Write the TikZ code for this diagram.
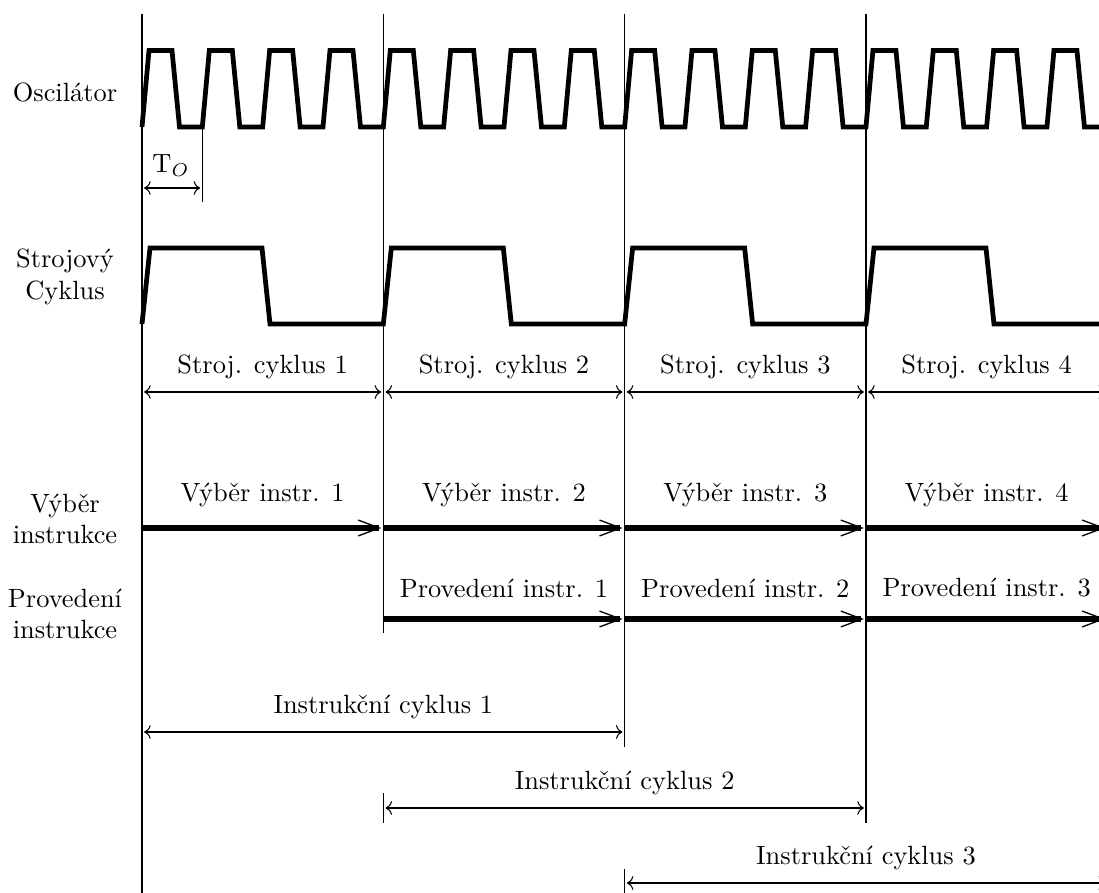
\documentclass[tikz,border=0pt]{standalone}
\usepackage{fontspec}
\usetikzlibrary{arrows.meta}

\tikzset{
  vline/.style={line width=0.4pt},
  wave/.style={line width=1.8pt, line join=miter},
  span/.style={<->, line width=0.4pt, shorten <=0.8pt, shorten >=0.8pt},
  phase/.style={line width=2.5pt,
    -{Straight Barb[length=8pt,width=6pt,line width=0.5pt]},
    shorten >=0.8pt},
  lbl/.style={inner sep=0pt},
  side/.style={align=center, inner sep=0pt},
}

\begin{document}
\begin{tikzpicture}[x=0.3788pt, y=-0.3788pt]
  \useasboundingbox (0,0) rectangle (1099,893);
  \clip (0,0) rectangle (1099,893);

  % cycle boundaries
  \coordinate (t0) at (142,14);    \coordinate (b0) at (142,893);
  \coordinate (t1) at (383.33,14); \coordinate (b1) at (383.33,633);
  \coordinate (t2) at (624.67,14); \coordinate (b2) at (624.67,747);
  \coordinate (t3) at (866,14);    \coordinate (b3) at (866,823);
  \draw[vline] (t0) -- (b0);
  \draw[vline] (t1) -- (b1);
  \draw[vline] (t2) -- (b2);
  \draw[vline] (t3) -- (b3);

  % short ticks
  \coordinate (k1a) at (383.33,793); \coordinate (k1b) at (383.33,823);
  \coordinate (k2a) at (624.67,869); \coordinate (k2b) at (624.67,893);
  \draw[vline] (k1a) -- (k1b);
  \draw[vline] (k2a) -- (k2b);

  % side labels
  \node[side] (osc) at (65,92) {Oscilátor};
  \node[side] (mc)  at (65,277) {Strojový\\Cyklus};
  \node[side] (fe)  at (65,519) {Výběr\\instrukce};
  \node[side] (ex)  at (65,614) {Provedení\\instrukce};

  % oscillator
  \coordinate (w0) at (142,127);
  \draw[wave] (w0) \foreach \k in {0,...,15} {
      -- ++(7,-76.5) -- ++(23,0) -- ++(7.5,76.5) -- ++(22.83,0) };

  % oscillator period
  \coordinate (to0) at (142,188);
  \coordinate (to1) at (202.33,188);
  \coordinate (tt) at (202.33,127);
  \coordinate (tb) at (202.33,202);
  \draw[vline] (tt) -- (tb);
  \draw[span] (to0) -- (to1);
  \node[lbl] (tol) at (171,166) {T$_O$};

  % machine cycle
  \coordinate (m0) at (142,324);
  \draw[wave] (m0) \foreach \k in {0,...,3} {
      -- ++(8,-76) -- ++(112,0) -- ++(8,76) -- ++(113.33,0) };

  % machine cycle spans
  \foreach \i/\j/\n in {0/1/1, 1/2/2, 2/3/3, 3/4/4} {
    \coordinate (sa\i) at ({142+241.33*\i},392);
    \coordinate (sb\i) at ({142+241.33*\j},392);
    \draw[span] (sa\i) -- (sb\i);
    \node[lbl] (sl\i) at ({142+241.33*(\i+0.5)},367) {Stroj. cyklus \n};
  }

  % fetch phases
  \foreach \i/\j/\n in {0/1/1, 1/2/2, 2/3/3, 3/4/4} {
    \coordinate (fa\i) at ({142+241.33*\i},528);
    \coordinate (fb\i) at ({142+241.33*\j},528);
    \draw[phase] (fa\i) -- (fb\i);
    \node[lbl] (fl\i) at ({142+241.33*(\i+0.5)},495) {Výběr instr. \n};
  }

  % execute phases
  \foreach \i/\j/\n in {1/2/1, 2/3/2, 3/4/3} {
    \coordinate (ea\i) at ({142+241.33*\i},619);
    \coordinate (eb\i) at ({142+241.33*\j},619);
    \draw[phase] (ea\i) -- (eb\i);
    \node[lbl] (el\i) at ({142+241.33*(\i+0.5)},588) {Provedení instr. \n};
  }

  % instruction cycles
  \foreach \i/\j/\y/\n in {0/2/732/1, 1/3/808/2, 2/4/883/3} {
    \coordinate (ia\n) at ({142+241.33*\i},\y);
    \coordinate (ib\n) at ({142+241.33*\j},\y);
    \draw[span] (ia\n) -- (ib\n);
    \node[lbl] (il\n) at ({142+241.33*(\i+\j)/2},\y-25) {Instrukční cyklus \n};
  }
\end{tikzpicture}
\end{document}
